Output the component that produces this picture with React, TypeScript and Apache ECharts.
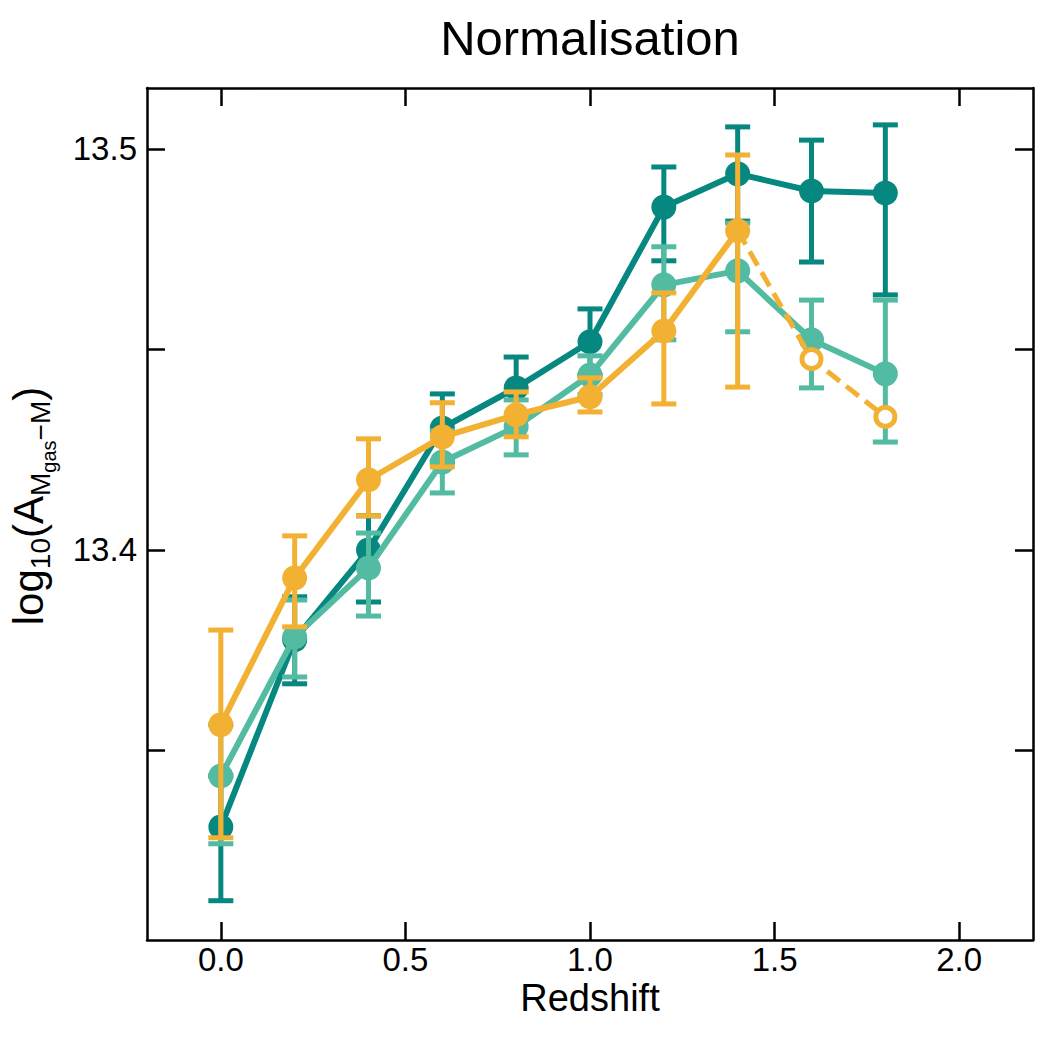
import React, { useEffect, useRef } from "react";
import * as echarts from "echarts";

const redshift = [0.0, 0.2, 0.4, 0.6, 0.8, 1.0, 1.2, 1.4, 1.6, 1.8];

const darkValues = [13.3309, 13.3776, 13.4, 13.4304, 13.4404, 13.4519, 13.4855, 13.4938, 13.4895, 13.489];
const darkLow = [13.3125, 13.3666, 13.387, 13.4219, 13.4327, 13.4436, 13.4721, 13.482, 13.4718, 13.4636];
const darkHigh = [13.3436, 13.3883, 13.4085, 13.4389, 13.4481, 13.4601, 13.4955, 13.5055, 13.5022, 13.506];

const lightValues = [13.3436, 13.3783, 13.3955, 13.4219, 13.4307, 13.4436, 13.4661, 13.4696, 13.4524, 13.4439];
const lightLow = [13.3267, 13.3683, 13.3835, 13.4142, 13.4237, 13.4387, 13.4524, 13.4544, 13.4404, 13.4269];
const lightHigh = [13.3564, 13.3875, 13.4042, 13.4297, 13.4374, 13.4484, 13.4756, 13.4815, 13.4623, 13.4623];

const orangeRedshift = [0.0, 0.2, 0.4, 0.6, 0.8, 1.0, 1.2, 1.4];
const orangeValues = [13.3564, 13.393, 13.4175, 13.4282, 13.4337, 13.4382, 13.4546, 13.4796];
const orangeLow = [13.3282, 13.3808, 13.4085, 13.4207, 13.4282, 13.4344, 13.4364, 13.4406];
const orangeHigh = [13.38, 13.4035, 13.4277, 13.4367, 13.4394, 13.4429, 13.4641, 13.4985];

const orangeDashRedshift = [1.4, 1.6, 1.8];
const orangeDashValues = [13.4796, 13.4476, 13.4332];

const xTicks = [0.0, 0.5, 1.0, 1.5, 2.0];
const yTicks = [13.35, 13.4, 13.45, 13.5];
const yLabels = [13.4, 13.5];

const DARK = "#06877f";
const LIGHT = "#52bba1";
const ORANGE = "#f2b132";
const FONT = "Liberation Sans";

function errSeries(xs: number[], lo: number[], hi: number[], color: string, z: number) {
  return {
    type: "custom",
    z,
    xAxisIndex: 0,
    yAxisIndex: 0,
    data: xs.map((x, i) => [x, lo[i], hi[i]]),
    encode: { x: 0, y: [1, 2] },
    renderItem: (params: any, api: any) => {
      const x = api.value(0);
      const pLo = api.coord([x, api.value(1)]);
      const pHi = api.coord([x, api.value(2)]);
      const cw = 12.5;
      const st = { stroke: color, lineWidth: 5 };
      return {
        type: "group",
        children: [
          { type: "line", shape: { x1: pLo[0], y1: pLo[1], x2: pHi[0], y2: pHi[1] }, style: st },
          { type: "line", shape: { x1: pLo[0] - cw, y1: pLo[1], x2: pLo[0] + cw, y2: pLo[1] }, style: st },
          { type: "line", shape: { x1: pHi[0] - cw, y1: pHi[1], x2: pHi[0] + cw, y2: pHi[1] }, style: st },
        ],
      };
    },
  };
}

function lineSeries(xs: number[], ys: number[], color: string, z: number) {
  return {
    type: "line",
    z,
    data: xs.map((x, i) => [x, ys[i]]),
    symbol: "circle",
    symbolSize: 25,
    lineStyle: { color, width: 6 },
    itemStyle: { color },
    emphasis: { disabled: true },
  };
}

function measure(text: string, size: number) {
  const c = document.createElement("canvas");
  const ctx = c.getContext("2d")!;
  ctx.font = `${size}px "${FONT}"`;
  return ctx.measureText(text).width;
}

export default function App() {
  const ref = useRef<HTMLDivElement>(null);
  useEffect(() => {
    if (!ref.current) return;
    const chart = echarts.init(ref.current, undefined, { renderer: "svg" });

    // y-axis label pieces: [text, size, baseline offset]
    const S = 42, s1 = 28, s2 = 20;
    const pieces: [string, number, number][] = [
      ["log", S, 0],
      ["10", s1, 7],
      ["(A", S, 0],
      ["M", s1, 7],
      ["gas", s2, 13],
      ["\u2212M", s1, 7],
      [")", S, 0],
    ];
    const widths = pieces.map((p) => measure(p[0], p[1]));
    const total = widths.reduce((a, b) => a + b, 0);
    let cx = -total / 2;
    const labelChildren = pieces.map((p, i) => {
      const el = {
        type: "text",
        x: cx,
        y: p[2] - 0.3465 * p[1],
        style: {
          text: p[0],
          fontSize: p[1],
          fontFamily: FONT,
          fill: "#000",
          align: "left",
          verticalAlign: "middle",
        },
      };
      cx += widths[i];
      return el;
    });

    const axisCommon = {
      type: "value",
      splitLine: { show: false },
      axisLine: { show: true, onZero: false, lineStyle: { color: "#000", width: 2.5 } },
    };

    chart.setOption({
      animation: false,
      grid: { left: 147, right: 17, top: 88, bottom: 110, containLabel: false },
      xAxis: [
        {
          ...axisCommon,
          position: "bottom",
          min: -0.2,
          max: 2.2,
          axisTick: { show: true, inside: true, length: 18, customValues: xTicks, lineStyle: { color: "#000", width: 2.5 } },
          axisLabel: {
            show: true,
            customValues: xTicks,
            formatter: (v: number) => v.toFixed(1),
            fontSize: 33,
            fontFamily: FONT,
            color: "#000",
            margin: 3,
          },
        },
        {
          ...axisCommon,
          position: "top",
          min: -0.2,
          max: 2.2,
          axisTick: { show: true, inside: true, length: 18, customValues: xTicks, lineStyle: { color: "#000", width: 2.5 } },
          axisLabel: { show: false },
        },
      ],
      yAxis: [
        {
          ...axisCommon,
          position: "left",
          min: 13.3027,
          max: 13.5152,
          axisTick: { show: true, inside: true, length: 18, customValues: yTicks, lineStyle: { color: "#000", width: 2.5 } },
          axisLabel: {
            show: true,
            customValues: yLabels,
            formatter: (v: number) => v.toFixed(1),
            fontSize: 33,
            fontFamily: FONT,
            color: "#000",
            margin: 10,
          },
        },
        {
          ...axisCommon,
          position: "right",
          min: 13.3027,
          max: 13.5152,
          axisTick: { show: true, inside: true, length: 18, customValues: yTicks, lineStyle: { color: "#000", width: 2.5 } },
          axisLabel: { show: false },
        },
      ],
      graphic: [
        {
          type: "text",
          x: 590,
          y: 38,
          style: { text: "Normalisation", fontSize: 49, fontFamily: FONT, fill: "#000", align: "center", verticalAlign: "middle" },
        },
        {
          type: "text",
          x: 590,
          y: 998,
          style: { text: "Redshift", fontSize: 38, fontFamily: FONT, fill: "#000", align: "center", verticalAlign: "middle" },
        },
        {
          type: "group",
          x: 43,
          y: 506,
          rotation: Math.PI / 2,
          children: labelChildren,
        },
      ],
      series: [
        errSeries(redshift, darkLow, darkHigh, DARK, 2),
        lineSeries(redshift, darkValues, DARK, 3),
        errSeries(redshift, lightLow, lightHigh, LIGHT, 4),
        lineSeries(redshift, lightValues, LIGHT, 5),
        errSeries(orangeRedshift, orangeLow, orangeHigh, ORANGE, 6),
        lineSeries(orangeRedshift, orangeValues, ORANGE, 7),
        {
          type: "line",
          z: 7,
          data: orangeDashRedshift.map((x, i) =>
            i === 0 ? { value: [x, orangeDashValues[i]], symbol: "none" } : { value: [x, orangeDashValues[i]] }
          ),
          symbol: "circle",
          symbolSize: 19,
          lineStyle: { color: ORANGE, width: 5, type: [16, 8] },
          itemStyle: { color: "#ffffff", borderColor: ORANGE, borderWidth: 5 },
          emphasis: { disabled: true },
        },
      ],
    });
    return () => chart.dispose();
  }, []);
  return <div ref={ref} style={{ position: "absolute", left: 0, top: 0, width: 1050, height: 1050 }} />;
}
